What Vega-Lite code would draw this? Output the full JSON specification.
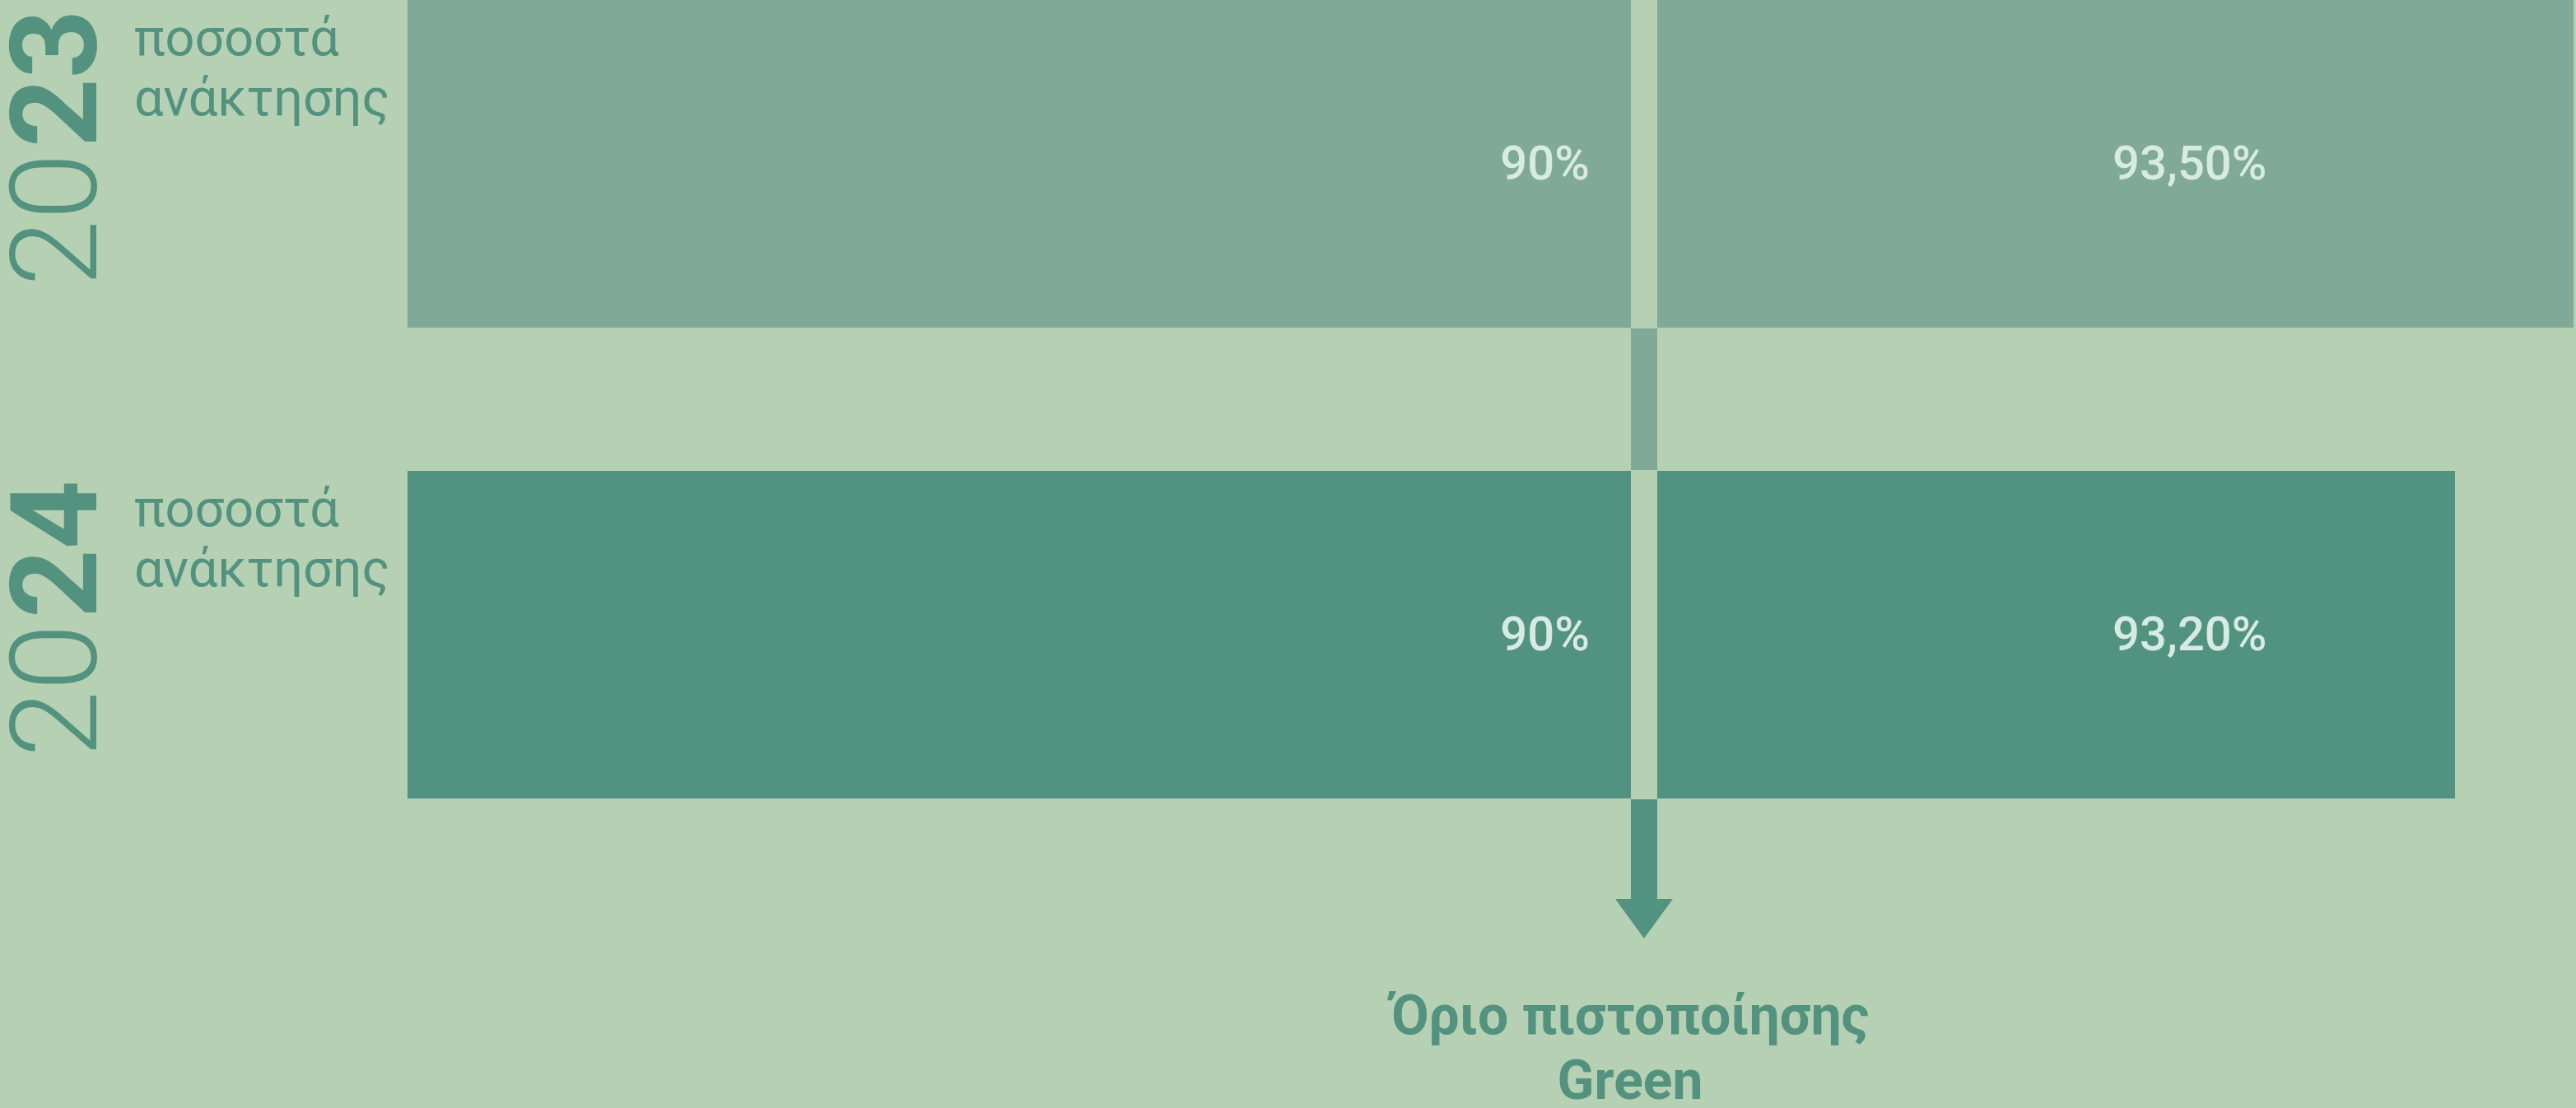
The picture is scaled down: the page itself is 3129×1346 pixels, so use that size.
{
  "$schema": "https://vega.github.io/schema/vega-lite/v6.json",
  "width": 3129,
  "height": 970,
  "autosize": "none",
  "padding": {"left": 0, "top": 0, "right": 0, "bottom": 376},
  "background": "#b5d0b3",
  "config": {"view": {"stroke": null}},
  "datasets": {
    "rates": [
      {"year": "2023", "prefix": "20", "suffix": "23", "measure": "ποσοστά ανάκτησης", "recovery": 93.5, "label": "93,50%", "threshold": 90, "thresholdLabel": "90%"},
      {"year": "2024", "prefix": "20", "suffix": "24", "measure": "ποσοστά ανάκτησης", "recovery": 93.2, "label": "93,20%", "threshold": 90, "thresholdLabel": "90%"}
    ],
    "note": [
      {"year": "2024", "threshold": 90, "text": "Όριο πιστοποίησης\nGreen"}
    ]
  },
  "data": {"name": "rates"},
  "encoding": {
    "y": {
      "field": "year",
      "type": "nominal",
      "axis": null,
      "scale": {"type": "band", "domain": ["2023", "2024"], "paddingInner": 0.304, "paddingOuter": 0}
    }
  },
  "layer": [
    {
      "transform": [{"filter": "datum.year === '2024'"}],
      "mark": {"type": "tick", "orient": "vertical", "size": 642, "thickness": 32, "color": "#529280", "opacity": 1},
      "encoding": {
        "x": {"field": "threshold", "type": "quantitative", "axis": null,
              "scale": {"type": "linear", "domain": [0, 90, 93.2, 93.5], "range": [495, 1997, 2982, 3126], "nice": false, "zero": false}}
      }
    },
    {
      "transform": [{"filter": "datum.year === '2023'"}],
      "mark": {"type": "tick", "orient": "vertical", "size": 746, "thickness": 32, "color": "#80a997", "opacity": 1},
      "encoding": {"x": {"field": "threshold", "type": "quantitative"}}
    },
    {
      "mark": {"type": "bar", "opacity": 1},
      "encoding": {
        "x": {"field": "recovery", "type": "quantitative"},
        "color": {"field": "year", "type": "nominal", "legend": null,
                  "scale": {"domain": ["2023", "2024"], "range": ["#80a997", "#529280"]}}
      }
    },
    {
      "mark": {"type": "tick", "orient": "vertical", "size": 400, "thickness": 32, "color": "#b5d0b3", "opacity": 1},
      "encoding": {"x": {"field": "threshold", "type": "quantitative"}}
    },
    {
      "transform": [{"filter": "datum.year === '2024'"}],
      "mark": {"type": "point", "shape": "M-1,-0.686L1,-0.686L0,0.686Z", "size": 4900, "filled": true, "color": "#529280", "opacity": 1, "strokeWidth": 0, "yOffset": 345},
      "encoding": {"x": {"field": "threshold", "type": "quantitative"}}
    },
    {
      "mark": {"type": "text", "align": "right", "baseline": "middle", "dx": -66, "dy": 2, "font": "Roboto", "fontSize": 58, "fontWeight": 500, "color": "#d7ebe2"},
      "encoding": {
        "x": {"field": "threshold", "type": "quantitative"},
        "text": {"field": "thresholdLabel"}
      }
    },
    {
      "mark": {"type": "text", "align": "left", "baseline": "middle", "dx": 569, "dy": 2, "font": "Roboto", "fontSize": 58, "fontWeight": 500, "color": "#d7ebe2"},
      "encoding": {
        "x": {"field": "threshold", "type": "quantitative"},
        "text": {"field": "label"}
      }
    },
    {
      "mark": {"type": "text", "align": "left", "baseline": "alphabetic", "dx": -332, "dy": -132, "lineBreak": " ", "lineHeight": 73, "font": "Roboto", "fontSize": 63, "fontWeight": 400, "color": "#52927f"},
      "encoding": {
        "x": {"datum": 0, "type": "quantitative"},
        "text": {"field": "measure"}
      }
    },
    {
      "mark": {"type": "text", "angle": 270, "align": "left", "baseline": "alphabetic", "dx": -149, "dy": -378, "font": "Roboto", "fontSize": 146, "fontWeight": 300, "color": "#52927f"},
      "encoding": {
        "x": {"datum": 0, "type": "quantitative"},
        "text": {"field": "prefix"}
      }
    },
    {
      "mark": {"type": "text", "angle": 270, "align": "left", "baseline": "alphabetic", "dx": 20, "dy": -378, "font": "Roboto", "fontSize": 146, "fontWeight": 700, "color": "#52927f"},
      "encoding": {
        "x": {"datum": 0, "type": "quantitative"},
        "text": {"field": "suffix"}
      }
    },
    {
      "data": {"name": "note"},
      "mark": {"type": "text", "align": "center", "baseline": "alphabetic", "dx": -17, "dy": 485, "lineBreak": "\n", "lineHeight": 79, "font": "Roboto", "fontSize": 66, "fontWeight": 700, "color": "#52927f"},
      "encoding": {
        "x": {"field": "threshold", "type": "quantitative"},
        "text": {"field": "text"}
      }
    }
  ]
}
